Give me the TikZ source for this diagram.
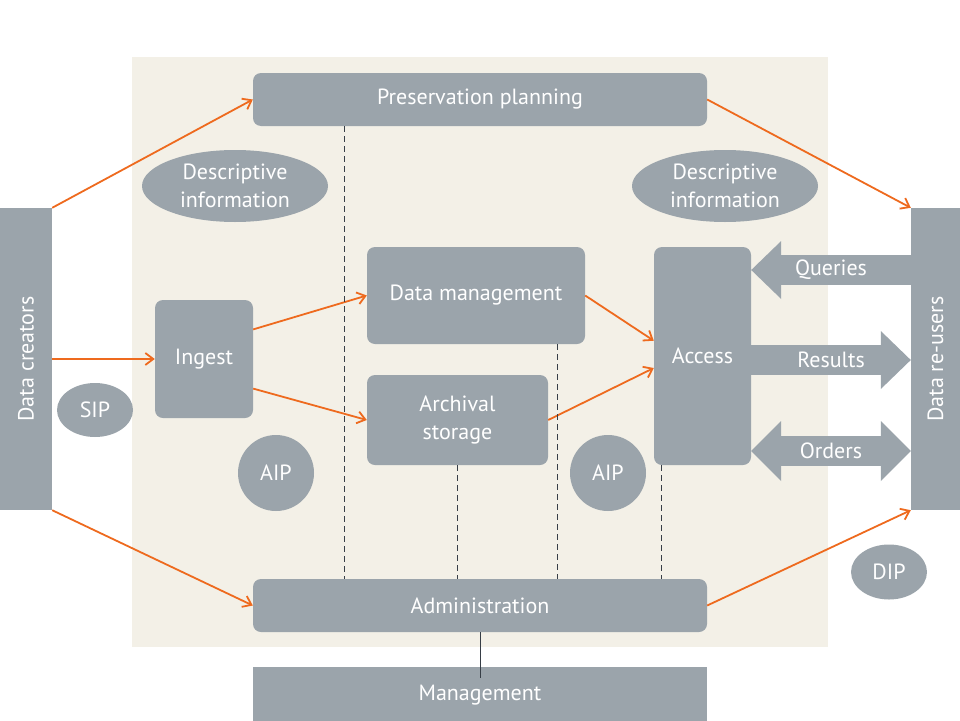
\documentclass[tikz,border=0pt]{standalone}
\usepackage{fontspec}
\setmainfont{PT Sans}
\usepackage{tikz}
\usetikzlibrary{arrows.meta,positioning,calc,shapes.geometric}
\definecolor{oaisgray}{RGB}{155,164,171}
\definecolor{oaisbeige}{RGB}{243,240,231}
\definecolor{oaisorange}{RGB}{238,106,30}
\definecolor{oaisline}{RGB}{55,62,70}
\tikzset{box/.style={fill=oaisgray, rounded corners=8pt, align=center, text=white, inner sep=0pt}, sbox/.style={fill=oaisgray, align=center, text=white, inner sep=0pt}, oval/.style={ellipse, fill=oaisgray, align=center, text=white, inner sep=0pt}, edge/.style={-{Straight Barb[length=8pt,width=12pt]}, draw=oaisorange, line width=1.8pt}, dedge/.style={draw=oaisline, line width=0.8pt, dash pattern=on 6pt off 4pt}, bigarrow/.style={draw=oaisgray, line width=30pt, -{Triangle[length=30pt,width=58pt,line width=0pt]}}}

\begin{document}
\begin{tikzpicture}[x=1pt,y=-1pt,font=\fontsize{22}{28}\selectfont]
\useasboundingbox (0,0) rectangle (960,720);
\fill[oaisbeige] (132,57) rectangle (828,647);
\node[box,minimum width=454pt,minimum height=53pt] (plan) at (480,99.5) {Preservation planning};
\node[box,minimum width=454pt,minimum height=53pt] (admin) at (480,605.5) {Administration};
\node[sbox,minimum width=454pt,minimum height=56pt] (mgmt) at (480,695) {Management};
\node[sbox,minimum width=52pt,minimum height=302pt] (creators) at (26,359) {\rotatebox{90}{Data creators}};
\node[sbox,minimum width=49pt,minimum height=302pt] (reusers) at (935.5,359) {\rotatebox{90}{Data re-users}};
\node[box,minimum width=98pt,minimum height=118pt] (ingest) at (204,359) {Ingest};
\node[box,minimum width=218pt,minimum height=97pt] (dm) at (476,295.5) {Data management};
\node[box,minimum width=181pt,minimum height=90pt] (store) at (457.5,420) {Archival\\storage};
\node[box,minimum width=97pt,minimum height=218pt] (access) at (702.5,356) {Access};
\node[oval,minimum width=186pt,minimum height=72pt] (descl) at (235,186) {Descriptive\\information};
\node[oval,minimum width=186pt,minimum height=72pt] (descr) at (725,186) {Descriptive\\information};
\node[oval,minimum width=76pt,minimum height=54pt] (sip) at (95,410) {SIP};
\node[oval,minimum width=76pt,minimum height=55pt] (dip) at (889,572) {DIP};
\node[oval,minimum width=76pt,minimum height=76pt] (aipl) at (276,473) {AIP};
\node[oval,minimum width=76pt,minimum height=76pt] (aipr) at (608,473) {AIP};
\draw[edge] (creators.north east) -- (plan.west); \draw[edge] (creators.east) -- (ingest.west); \draw[edge] (creators.south east) -- (admin.west);
\draw[edge] (plan.east) -- (reusers.north west); \draw[edge] (admin.east) -- (reusers.south west);
\draw[edge] ($(ingest.north east)!0.25!(ingest.south east)$) -- (dm.west); \draw[edge] ($(ingest.north east)!0.75!(ingest.south east)$) -- (store.west);
\draw[edge] (dm.east) -- ($(access.north west)!0.43!(access.south west)$); \draw[edge] (store.east) -- ($(access.north west)!0.555!(access.south west)$);
\draw[dedge] (plan.south -| 344,0) -- (admin.north -| 344,0); \draw[dedge] (store.south) -- (store.south |- admin.north);
\draw[dedge] (dm.south -| 557,0) -- (admin.north -| 557,0); \draw[dedge] (access.south -| 661,0) -- (admin.north -| 661,0);
\draw[draw=oaisline, line width=0.8pt] (admin.south) -- ($(mgmt.north)+(0,11)$);
\draw[bigarrow] (reusers.west |- 0,270) -- (access.east |- 0,270) node[midway,text=white] {Queries};
\draw[bigarrow] (access.east |- 0,360) -- (reusers.west |- 0,360) node[midway,text=white] {Results};
\draw[bigarrow,{Triangle[length=30pt,width=60pt,line width=0pt]}-{Triangle[length=30pt,width=60pt,line width=0pt]}] (access.east |- 0,451) -- (reusers.west |- 0,451) node[midway,text=white] {Orders};
\end{tikzpicture}
\end{document}
